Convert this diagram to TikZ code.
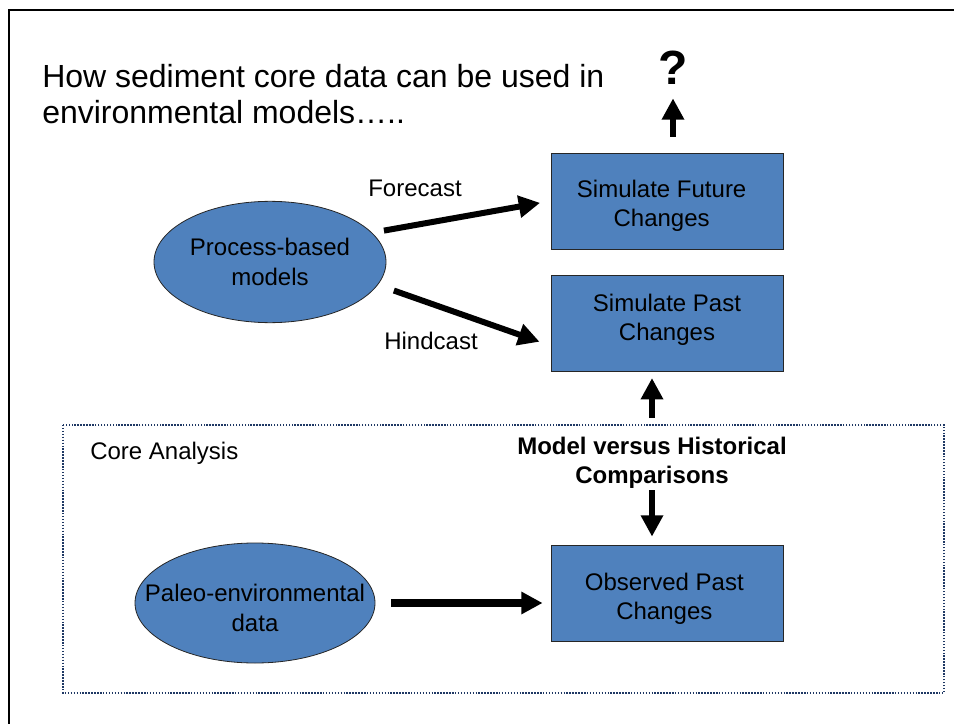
\documentclass[tikz,border=0pt]{standalone}
\usepackage{fontspec}
\setmainfont{Liberation Sans}
\usetikzlibrary{arrows.meta,shapes.geometric}
\definecolor{slideblue}{RGB}{79,129,189}
\definecolor{coreline}{RGB}{31,56,100}
\newcommand{\titlesize}{\fontsize{24}{27}\selectfont}
\newcommand{\textsize}{\fontsize{18}{22}\selectfont}
\newcommand{\asksize}{\fontsize{36}{40}\selectfont}
\newcommand{\boxtext}[2]{\raisebox{#1}[\height][\depth]{\begin{tabular}{@{}c@{}}#2\end{tabular}}}
\tikzset{
	simbox/.style={draw=black!85,line width=0.6pt,fill=slideblue,rectangle,minimum width=174pt,minimum height=72pt,align=center,font=\textsize},
	databubble/.style={draw=black!85,line width=0.6pt,fill=slideblue,ellipse,inner sep=0pt,minimum width=174pt,minimum height=91pt,align=center,font=\textsize},
	fatarrow/.style={-{Triangle[length=16pt,width=16pt]},line width=4.5pt},
	smalltext/.style={font=\textsize,align=center},
}

\begin{document}
\begin{tikzpicture}[x=0.75pt,y=-0.75pt]
			\useasboundingbox (0,0) rectangle (954,724);
			\draw[line width=2.2pt] (9,730) -- (9,10) -- (960,10);
			\draw[coreline,line width=1.1pt,dash pattern=on 1.1pt off 1.1pt] (63,425) rectangle (944,693);
			\node[anchor=north west,inner sep=0pt,align=left,font=\titlesize] (title) at (42,64) {How sediment core data can be used in\\environmental models…..};
			\node[inner sep=0pt,font=\asksize\bfseries] (ask) at (673,68) {?};
			\node[databubble] (proc) at (270,262) {Process-based\\models};
			\node[databubble,inner xsep=-19pt,minimum width=180pt,minimum height=90pt] (paleo) at (255,603) {\boxtext{-5.6pt}{Paleo-environmental\\data}};
			\node[simbox] (future) at (667,201) {\hspace*{-8pt}\boxtext{-3.75pt}{Simulate Future\\Changes}};
			\node[simbox] (past) at (667,323) {\boxtext{2pt}{Simulate Past\\Changes}};
			\node[simbox] (observed) at (667,593) {\hspace*{-4pt}\boxtext{-4.5pt}{Observed Past\\Changes}};
			\node[smalltext] (fore) at (415,188) {Forecast};
			\node[smalltext] (hind) at (431,341) {Hindcast};
			\node[smalltext,anchor=west,inner xsep=0pt] (core) at (90,453) {Core Analysis};
			\node[smalltext,font=\textsize\bfseries,inner sep=0pt] (compare) at (652,463) {Model versus Historical\\Comparisons};
			\draw[fatarrow,shorten <=9pt,shorten >=8pt] (proc.16) -- (future.west);
			\draw[fatarrow,shorten <=12.7pt,shorten >=8.8pt] (proc.348) -- (past.191);
			\draw[fatarrow,shorten <=12pt,shorten >=10pt] (future.north -| ask.south) -- (ask.south);
			\draw[fatarrow,shorten <=14pt,shorten >=5pt] (compare.north) -- (compare.north |- past.south);
			\draw[fatarrow,shorten <=1pt,shorten >=6pt] (compare.south) -- (compare.south |- observed.north);
			\draw[fatarrow,line width=6.5pt,shorten <=12pt,shorten >=6pt] (paleo.east) -- (paleo.east -| observed.west);
		\end{tikzpicture}
\end{document}
